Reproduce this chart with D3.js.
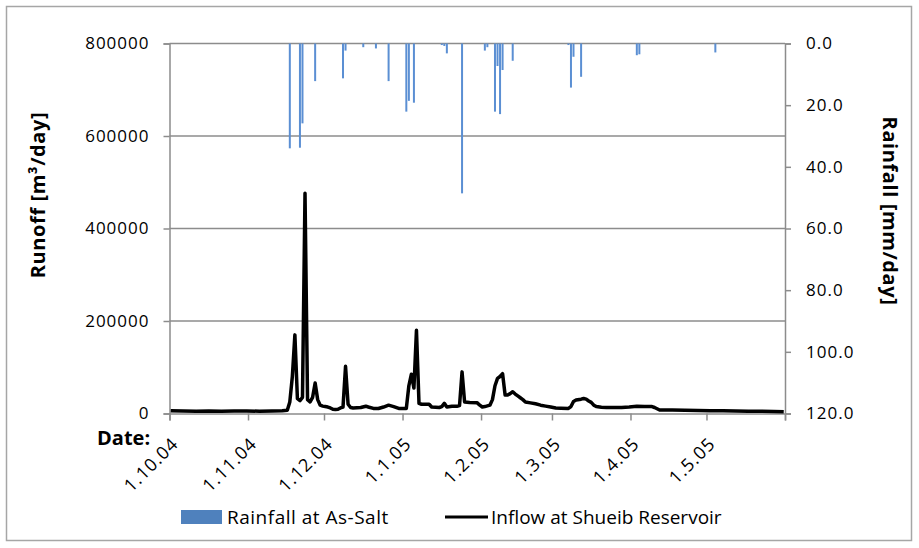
<!doctype html>
<html lang="en">
<head>
    <meta charset="utf-8">
    <script src="https://d3js.org/d3.v7.min.js"></script>
    <style type="text/css">
        html, body {
            margin: 0;
            padding: 0;
            background: #fff;
        }

        svg text {
            font-family: "Open Sans", "Liberation Sans", sans-serif;
            fill: #000;
        }
    </style>
</head>
<body>
<svg id="svg" width="919" height="548"></svg>

<script>

    // rainfall at As-Salt [mm/day]
    var rainDates = ["2004-11-17", "2004-11-21", "2004-11-22", "2004-11-27", "2004-12-08", "2004-12-09",
        "2004-12-16", "2004-12-21", "2004-12-26", "2005-01-02", "2005-01-03", "2005-01-05",
        "2005-01-16", "2005-01-17", "2005-01-18", "2005-01-24", "2005-02-02", "2005-02-03",
        "2005-02-06", "2005-02-07", "2005-02-08", "2005-02-09", "2005-02-13", "2005-03-07",
        "2005-03-08", "2005-03-09", "2005-03-12", "2005-04-03", "2005-04-04", "2005-05-04"];
    var rainValues = [34.0, 33.8, 25.9, 12.2, 11.3, 2.3,
        1.2, 1.6, 12.2, 22.1, 18.6, 19.2,
        0.5, 0.8, 3.2, 48.6, 2.3, 1.2,
        22.1, 7.3, 22.9, 8.6, 5.6, 0.5,
        14.3, 4.3, 10.8, 3.8, 3.5, 2.9];

    // inflow at Shueib reservoir [m3/day]
    var runoffDates = ["2004-10-01", "2004-10-06", "2004-10-11", "2004-10-16", "2004-10-21", "2004-10-26",
        "2004-10-31", "2004-11-05", "2004-11-10", "2004-11-14", "2004-11-16", "2004-11-17",
        "2004-11-18", "2004-11-19", "2004-11-20", "2004-11-21", "2004-11-22", "2004-11-23",
        "2004-11-24", "2004-11-25", "2004-11-26", "2004-11-27", "2004-11-28", "2004-11-29",
        "2004-11-30", "2004-12-01", "2004-12-02", "2004-12-03", "2004-12-04", "2004-12-05",
        "2004-12-06", "2004-12-07", "2004-12-08", "2004-12-09", "2004-12-10", "2004-12-11",
        "2004-12-12", "2004-12-15", "2004-12-17", "2004-12-18", "2004-12-20", "2004-12-22",
        "2004-12-24", "2004-12-26", "2004-12-28", "2004-12-30", "2005-01-02", "2005-01-03",
        "2005-01-04", "2005-01-05", "2005-01-06", "2005-01-07", "2005-01-08", "2005-01-11",
        "2005-01-12", "2005-01-15", "2005-01-16", "2005-01-17", "2005-01-18", "2005-01-20",
        "2005-01-22", "2005-01-23", "2005-01-24", "2005-01-25", "2005-01-27", "2005-01-30",
        "2005-01-31", "2005-02-01", "2005-02-02", "2005-02-04", "2005-02-05", "2005-02-06",
        "2005-02-07", "2005-02-08", "2005-02-09", "2005-02-10", "2005-02-11", "2005-02-12",
        "2005-02-13", "2005-02-14", "2005-02-15", "2005-02-16", "2005-02-17", "2005-02-18",
        "2005-02-20", "2005-02-22", "2005-02-24", "2005-02-26", "2005-02-28", "2005-03-02",
        "2005-03-04", "2005-03-07", "2005-03-08", "2005-03-09", "2005-03-10", "2005-03-12",
        "2005-03-13", "2005-03-14", "2005-03-15", "2005-03-16", "2005-03-17", "2005-03-18",
        "2005-03-20", "2005-03-22", "2005-03-25", "2005-03-28", "2005-03-31", "2005-04-03",
        "2005-04-06", "2005-04-09", "2005-04-10", "2005-04-12", "2005-04-14", "2005-04-17",
        "2005-04-22", "2005-04-27", "2005-05-02", "2005-05-07", "2005-05-12", "2005-05-17",
        "2005-05-22", "2005-05-27", "2005-05-31"];
    var runoffValues = [6000, 5500, 5000, 5500, 5000, 5500,
        5500, 5000, 5500, 6000, 7000, 25000,
        80000, 170000, 32000, 28000, 35000, 476000,
        30000, 25000, 35000, 66000, 30000, 18000,
        16000, 15000, 14000, 12000, 9000, 8500,
        9000, 12000, 14000, 102000, 20000, 13000,
        12000, 13000, 15800, 14000, 11000, 10800,
        14000, 18000, 15000, 11000, 11000, 60000,
        85000, 55000, 180000, 22000, 20000, 20000,
        14000, 13000, 15000, 22000, 14000, 15800,
        15800, 17000, 90000, 25000, 24000, 23000,
        18000, 14000, 15000, 18000, 30000, 60000,
        76000, 80000, 86000, 40000, 40000, 43000,
        47000, 42000, 38000, 34000, 30000, 25000,
        23000, 21000, 18000, 16000, 14000, 12000,
        11500, 11000, 15000, 26000, 29000, 31000,
        32500, 31000, 27000, 24000, 18000, 15000,
        13500, 13000, 13000, 13000, 14000, 15500,
        15000, 15000, 13000, 7500, 7500, 7500,
        7000, 6500, 6000, 6000, 5500, 5000,
        5000, 4500, 4000];

    var runoffTicks = [0, 200000, 400000, 600000, 800000];
    var rainTicks = [0, 20, 40, 60, 80, 100, 120];
    var monthTicks = ["2004-10-01", "2004-11-01", "2004-12-01", "2005-01-01", "2005-02-01",
        "2005-03-01", "2005-04-01", "2005-05-01", "2005-06-01"];
    var monthLabels = ["1.10.04", "1.11.04", "1.12.04", "1.1.05", "1.2.05", "1.3.05", "1.4.05", "1.5.05", ""];

    var parse = d3.timeParse("%Y-%m-%d");
    var svg = d3.select("#svg");

    // plot box (named so they don't clash with window.top)
    var plotLeft = 169.5, plotRight = 785, plotTop = 43.5, plotBottom = 413.5;
    var gridColor = "#8c8c8c";

    var x = d3.scaleTime()
        .domain([parse("2004-10-01"), parse("2005-06-01")])
        .range([plotLeft, plotRight]);
    var y = d3.scaleLinear().domain([0, 800000]).range([plotBottom, plotTop]);
    var yRain = d3.scaleLinear().domain([0, 120]).range([plotTop, plotBottom]);

    // points sit in the middle of their day
    var mid = function (s) {
        return x(d3.timeHour.offset(parse(s), 12));
    };

    // outer frame
    svg.append("rect")
        .attr("x", 6.5).attr("y", 6.5)
        .attr("width", 905).attr("height", 534)
        .attr("fill", "none")
        .attr("stroke", "#a6a6a6")
        .attr("stroke-width", 1.5);

    // gridlines
    svg.append("g")
        .selectAll("line")
        .data(runoffTicks.slice(1))
        .enter().append("line")
        .attr("x1", plotLeft).attr("x2", plotRight)
        .attr("y1", function (d) { return y(d); })
        .attr("y2", function (d) { return y(d); })
        .attr("stroke", gridColor)
        .attr("stroke-width", 1.5);

    // left axis
    var yAxis = svg.append("g")
        .attr("transform", "translate(" + plotLeft + ",0)")
        .call(d3.axisLeft(y).tickValues(runoffTicks).tickSize(6).tickPadding(14).tickFormat(d3.format("d")));

    // right axis
    var rAxis = svg.append("g")
        .attr("transform", "translate(" + plotRight + ",0)")
        .call(d3.axisRight(yRain).tickValues(rainTicks).tickSize(6).tickPadding(15).tickFormat(d3.format(".1f")));

    // bottom axis
    var xAxis = svg.append("g")
        .attr("transform", "translate(0," + plotBottom + ")")
        .call(d3.axisBottom(x).tickValues(monthTicks.map(parse)).tickSize(7).tickFormat(""));

    [yAxis, rAxis, xAxis].forEach(function (g) {
        g.select(".domain").attr("stroke", gridColor).attr("stroke-width", 1.5);
        g.selectAll(".tick line").attr("stroke", gridColor).attr("stroke-width", 1.5);
        g.selectAll(".tick text")
            .attr("fill", "#000")
            .style("font-family", "'Open Sans', sans-serif")
            .style("font-size", "17px")
            .style("letter-spacing", "1px");
    });

    xAxis.selectAll(".tick")
        .append("text")
        .attr("transform", "translate(5,27) rotate(-45)")
        .attr("text-anchor", "end")
        .attr("dy", "0.35em")
        .attr("fill", "#000")
        .style("font-size", "18px")
        .style("letter-spacing", "1px")
        .text(function (d, i) { return monthLabels[i]; });

    // rainfall bars hanging from the top
    svg.append("g")
        .selectAll("rect")
        .data(rainValues)
        .enter().append("rect")
        .attr("x", function (d, i) { return mid(rainDates[i]) - 1; })
        .attr("y", plotTop)
        .attr("width", 2)
        .attr("height", function (d) { return yRain(d) - plotTop; })
        .attr("fill", "#5b8fd3");

    // runoff line
    var line = d3.line()
        .x(function (d, i) { return mid(runoffDates[i]); })
        .y(function (d) { return y(d); });

    svg.append("path")
        .datum(runoffValues)
        .attr("d", line)
        .attr("fill", "none")
        .attr("stroke", "#000")
        .attr("stroke-width", 3.5)
        .attr("stroke-linejoin", "round");

    // axis titles
    svg.append("text")
        .attr("transform", "translate(45,195) rotate(-90)")
        .attr("text-anchor", "middle")
        .style("font-size", "20px")
        .style("font-weight", "bold")
        .style("letter-spacing", "0.6px")
        .text("Runoff [m³/day]");

    svg.append("text")
        .attr("transform", "translate(883,211) rotate(90)")
        .attr("text-anchor", "middle")
        .style("font-size", "20px")
        .style("font-weight", "bold")
        .style("letter-spacing", "0.6px")
        .text("Rainfall [mm/day]");

    svg.append("text")
        .attr("x", 97).attr("y", 445)
        .style("font-size", "20px")
        .style("font-weight", "bold")
        .text("Date:");

    // legend
    var legend = svg.append("g").attr("transform", "translate(0,517)");
    legend.append("rect")
        .attr("x", 181).attr("y", -7)
        .attr("width", 41).attr("height", 14)
        .attr("fill", "#4f81bd");
    legend.append("text")
        .attr("x", 227).attr("dy", "0.35em")
        .style("font-size", "19px")
        .style("letter-spacing", "0.5px")
        .text("Rainfall at As-Salt");
    legend.append("line")
        .attr("x1", 445).attr("x2", 488)
        .attr("stroke", "#000")
        .attr("stroke-width", 3);
    legend.append("text")
        .attr("x", 491).attr("dy", "0.35em")
        .style("font-size", "19px")
        .text("Inflow at Shueib Reservoir");

</script>
</body>
</html>
